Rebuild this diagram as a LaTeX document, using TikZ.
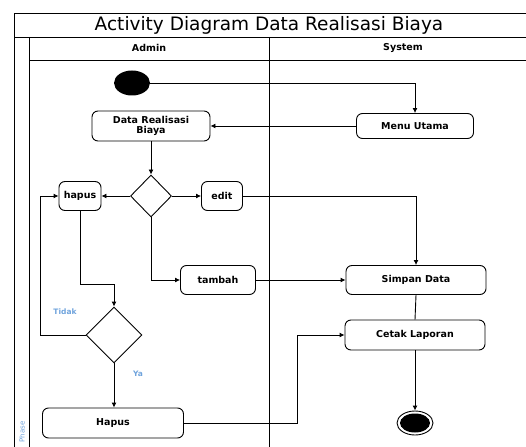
\documentclass[tikz,border=0pt]{standalone}
\usepackage{fontspec}
\setmainfont{DejaVu Sans}
\usetikzlibrary{positioning,arrows.meta,shapes.geometric}
\definecolor{guardblue}{HTML}{6FA3DC}

\begin{document}
\begin{tikzpicture}[
    x=1pt, y=-1pt, line width=0.9pt,
    every node/.style={font=\bfseries\fontsize{9.5}{10.5}\selectfont},
    act/.style={draw, rounded corners=6pt, align=center, inner sep=0pt},
    decision/.style={draw, diamond, inner sep=0pt},
    flow/.style={-{Latex[length=5pt,width=5pt]}},
    guard/.style={text=guardblue, font=\bfseries\fontsize{7.5}{8.5}\selectfont},
    startnode/.style={ellipse, fill=black, minimum width=36pt, minimum height=25pt, inner sep=0pt},
    stopnode/.style={ellipse, draw, minimum width=36pt, minimum height=24pt, inner sep=0pt,
        path picture={\fill (path picture bounding box.center) ellipse (15pt and 9.5pt);}}
]
\useasboundingbox (0,0) rectangle (526,446);

% swimlane frame
\draw (14,452) -- (14,13) -- (540,13);
\draw (14,37) -- (540,37);
\draw (29,37) -- (29,452);
\draw (269,37) -- (269,452);
\draw (29,60) -- (540,60);
\node[font=\fontsize{18.5}{22}\selectfont] (title) at (269,25) {Activity Diagram Data Realisasi Biaya};
\node (admin) at (149,48) {Admin};
\node (system) at (403,48) {System};
\node[rotate=90, text=guardblue, font=\fontsize{7}{8}\selectfont] (phase) at (22,432) {Phase};

% nodes
\node[startnode] (start) at (132,83) {};
\node[act, minimum width=117pt, minimum height=25pt] (menu) at (415,126) {Menu Utama};
\node[act, minimum width=118pt, minimum height=30pt] (data) at (151,126) {Data Realisasi\\Biaya};
\node[decision, minimum width=41pt, minimum height=42pt] (dec1) at (151,196) {};
\node[act, minimum width=42pt, minimum height=29pt] (hapus) at (80,196) {hapus};
\node[act, minimum width=41pt, minimum height=29pt] (edit) at (222,196) {edit};
\node[act, minimum width=75pt, minimum height=29pt] (tambah) at (218,280) {tambah};
\node[act, minimum width=140pt, minimum height=29pt] (simpan) at (416,280) {Simpan Data};
\node[decision, minimum width=56pt, minimum height=56pt] (dec2) at (114,335) {};
\node[act, minimum width=141pt, minimum height=30pt] (hapusdata) at (113,423) {Hapus};
\node[act, minimum width=140pt, minimum height=30pt] (cetak) at (415,335) {Cetak Laporan};
\node[stopnode] (stop) at (415,423) {};

% flows
\draw[flow] (start.east) -| (menu.north);
\draw[flow] (menu.west) -- (data.east);
\draw[flow] (data.south) -- (dec1.north);
\draw[flow] (dec1.west) -- (hapus.east);
\draw[flow] (dec1.east) -- (edit.west);
\draw[flow] (dec1.south) |- (tambah.west);
\draw[flow] (edit.east) -| (simpan.north);
\draw[flow] (tambah.east) -- (simpan.west);
\draw[flow] (hapus.south) -- ++(0,73) -| (dec2.north);
\draw[flow] (dec2.west) -- ++(-45,0) |- (hapus.west);
\node[guard] (tidak) at (65,312) {Tidak};
\draw[flow] (dec2.south) -- (hapusdata.north -| dec2.south);
\node[guard] (ya) at (138,374) {Ya};
\draw[flow] (hapusdata.east) -- ++(113,0) |- (cetak.west);
\draw (simpan.south) -- (cetak.north);
\draw[flow] (cetak.south) -- (stop.north);
\end{tikzpicture}
\end{document}
